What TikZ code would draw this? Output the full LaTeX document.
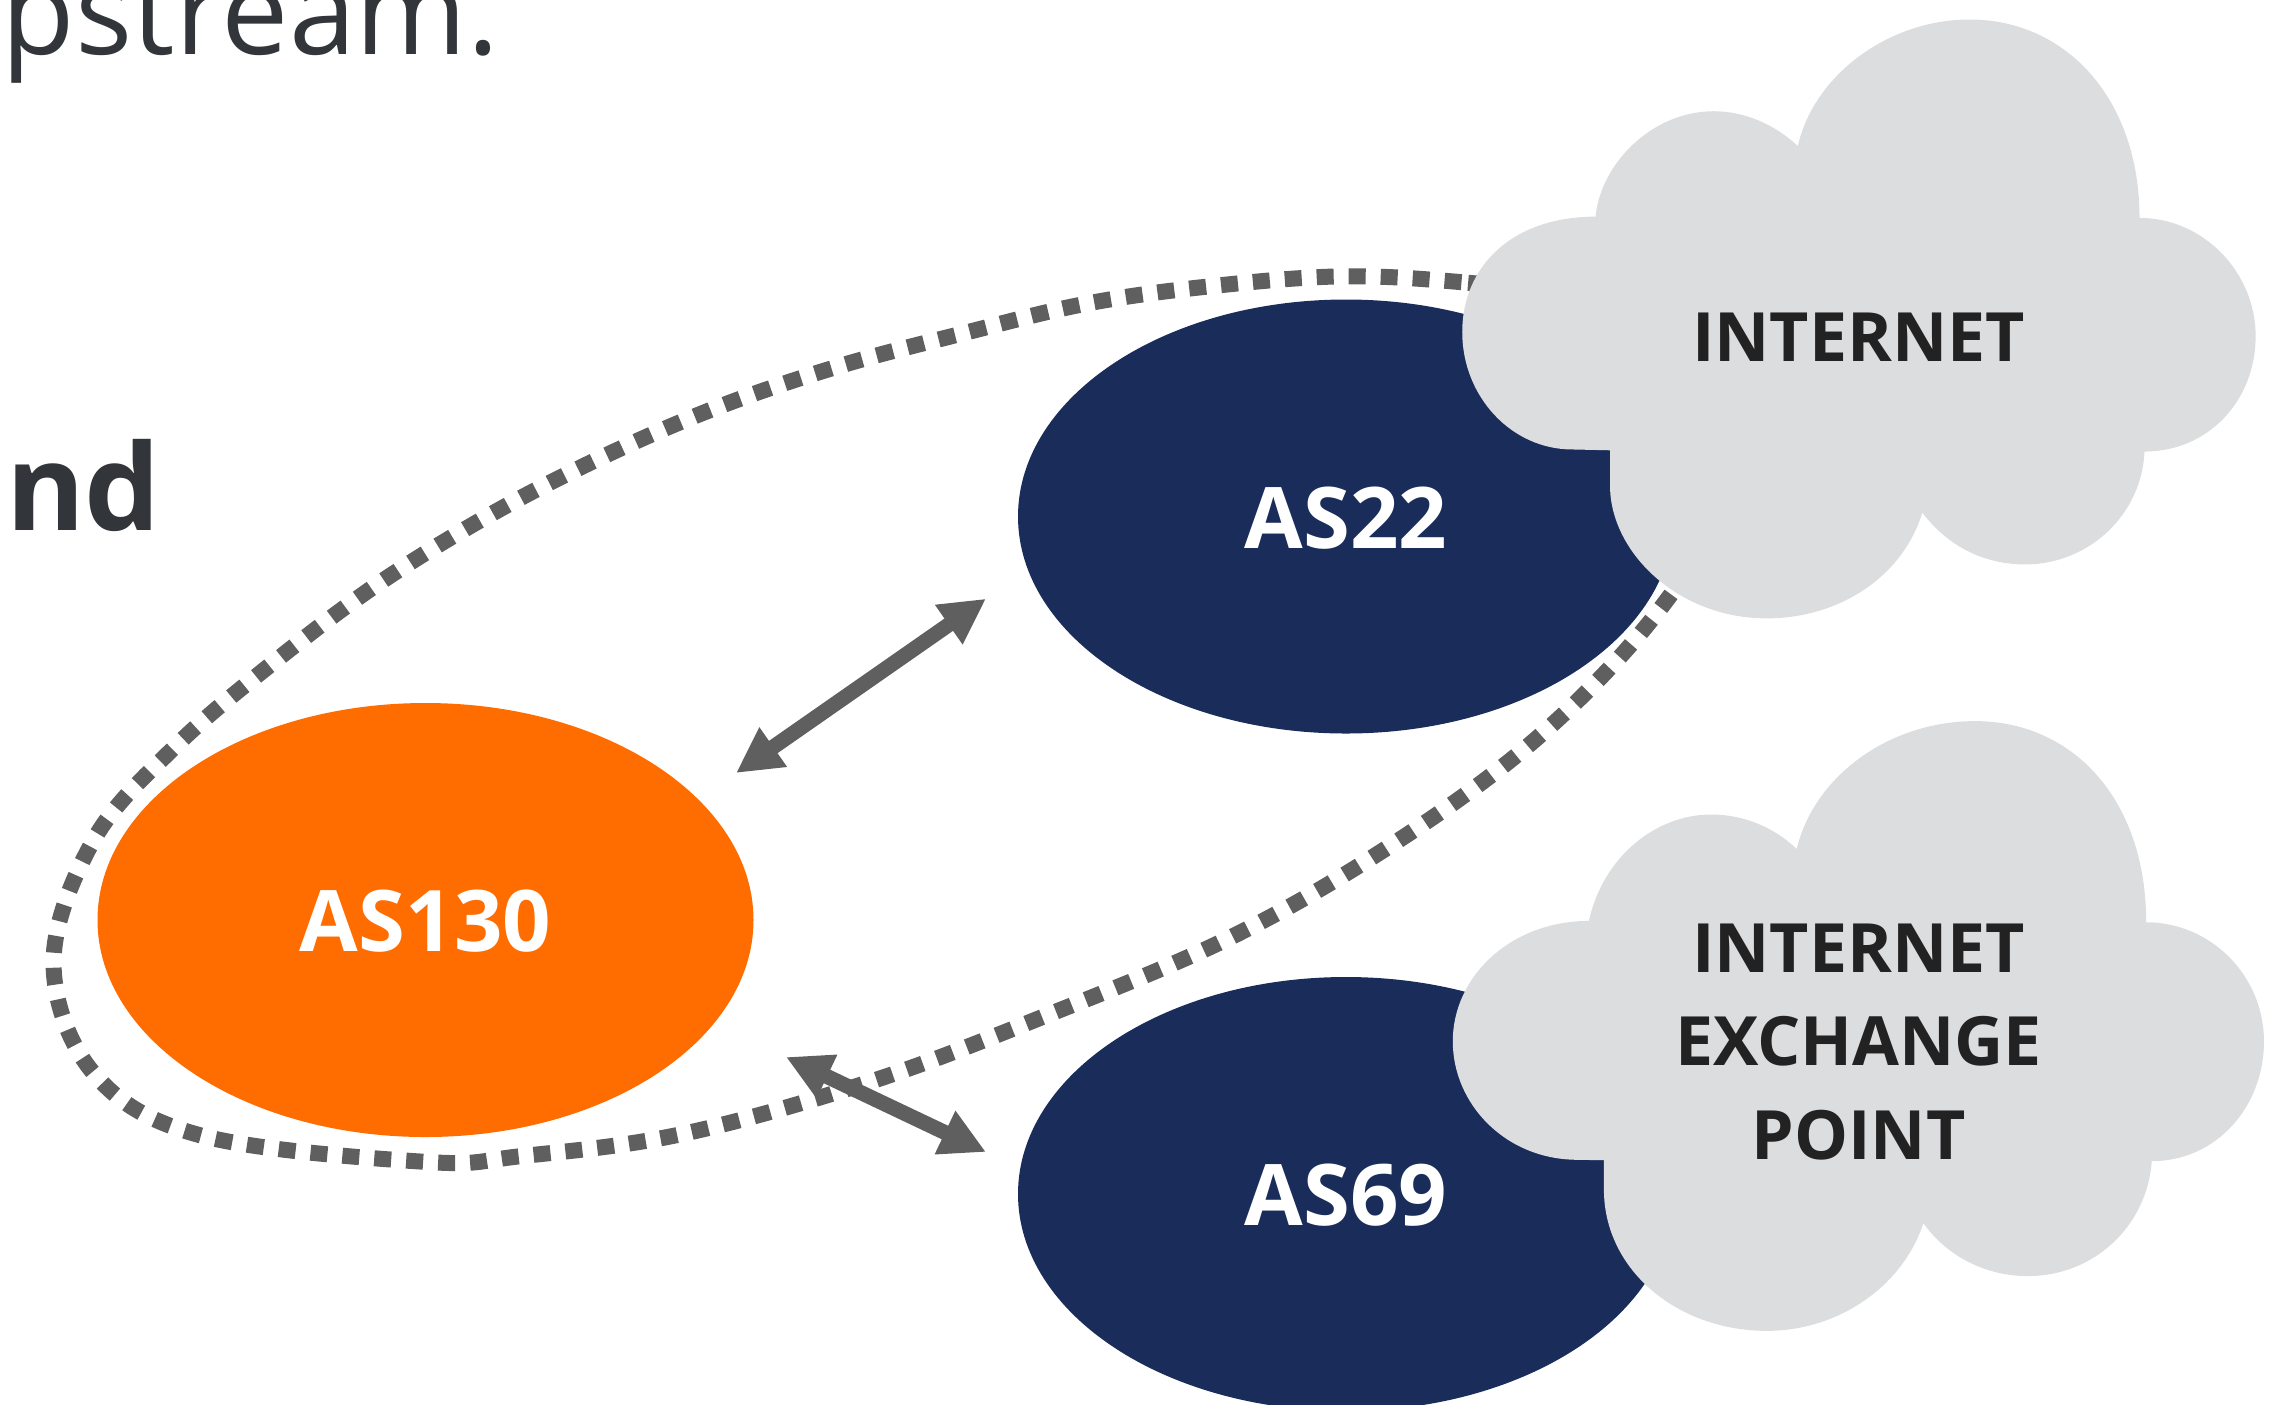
\documentclass[tikz,border=0pt]{standalone}
\usepackage{fontspec}
\setmainfont{Open Sans}
\usetikzlibrary{arrows.meta,shapes.geometric}
\definecolor{navy}{HTML}{1A2D5A}
\definecolor{orangeas}{HTML}{FF6C00}
\definecolor{cloudgrey}{HTML}{DCDDDF}
\definecolor{linegrey}{HTML}{5F5F5F}
\definecolor{inkdark}{HTML}{222222}
\definecolor{bodyink}{HTML}{32363A}
\tikzset{
  asnode/.style={ellipse,inner sep=0pt,outer sep=0pt,minimum width=328pt,minimum height=217pt,text=white,text height=31.5pt,text depth=0pt,font=\fontsize{42.5}{50}\selectfont\bfseries},
  cloudlabel/.style={text=inkdark,inner sep=0pt,outer sep=0pt,align=center,text depth=0pt,font=\fontsize{34}{46.75}\selectfont\bfseries},
  bodytext/.style={text=bodyink,inner sep=0pt,outer sep=0pt,anchor=base west},
  biarrow/.style={draw=linegrey,line width=7.5pt,{Triangle[length=22.7pt,width=22.5pt]}-{Triangle[length=22.7pt,width=22.5pt]}},
  cloudshape/.style={fill=cloudgrey,draw=none}
}
\begin{document}
\begin{tikzpicture}[x=0.5pt,y=-0.5pt]
\useasboundingbox (0,0) rectangle (2269,1404);
\node[bodytext,font=\fontsize{60}{62}\selectfont] (upstream) at (2,54) {pstream.};
\node[bodytext,font=\fontsize{60}{62}\selectfont\bfseries] (boldnd) at (6,530) {nd};
% dotted loop
\begin{scope}[x=0.7235pt,y=-0.7235pt]
\draw[linegrey,line width=8pt,dash pattern=on 8.5pt off 7.5pt] plot[smooth cycle,tension=0.6] coordinates {
 (1090,205)(1010,195)(927,191)(835,198)(750,210)(663,231)(580,253)(497,281)(418,315)(340,355)(262,403)(190,457)(122,515)(65,580)(37,665)(65,742)(140,785)(295,803)(360,799)(470,784)(600,748)(720,703)(850,648)(960,585)(1060,512)(1140,430)(1190,350)(1195,280)(1150,225)};
\end{scope}
\node[asnode,fill=orangeas] (as130) at (425.5,920) {AS130};
\node[asnode,fill=navy] (as22) at (1346,516.5) {AS22};
\node[asnode,fill=navy] (as69) at (1346,1194) {AS69};
% cloud 1
\begin{scope}[shift={(700pt,0pt)},x=0.2778pt,y=-0.2075pt]
\fill[cloudshape] (378,1085) -- (310,1083) .. controls (201,1083) and (112,956) .. (112,800)
 .. controls (112,644) and (200,522) .. (352,522)
 .. controls (360,400) and (450,268) .. (565,268)
 .. controls (620,268) and (675,300) .. (716,352)
 .. controls (745,180) and (880,47) .. (1025,47)
 .. controls (1200,47) and (1331,240) .. (1331,525)
 .. controls (1445,525) and (1540,655) .. (1540,810)
 .. controls (1540,965) and (1455,1088) .. (1340,1088)
 .. controls (1335,1240) and (1240,1360) .. (1125,1360)
 .. controls (1050,1360) and (985,1315) .. (940,1235)
 .. controls (905,1390) and (790,1490) .. (660,1490)
 .. controls (500,1490) and (378,1330) .. (378,1170) -- cycle;
\end{scope}
% cloud 2
\begin{scope}[shift={(700pt,-350pt)},x=0.2778pt,y=-0.22451pt]
\fill[cloudshape] (367,1025) -- (320,1024) .. controls (190,1024) and (95,900) .. (95,760)
 .. controls (95,615) and (200,492) .. (340,492)
 .. controls (365,350) and (460,255) .. (560,255)
 .. controls (620,255) and (675,285) .. (714,332)
 .. controls (745,170) and (880,47) .. (1035,47)
 .. controls (1210,47) and (1343,220) .. (1343,495)
 .. controls (1460,495) and (1555,615) .. (1555,760)
 .. controls (1555,905) and (1470,1027) .. (1353,1027)
 .. controls (1345,1170) and (1250,1283) .. (1130,1283)
 .. controls (1055,1283) and (985,1240) .. (942,1165)
 .. controls (905,1305) and (790,1405) .. (660,1405)
 .. controls (500,1405) and (367,1270) .. (367,1090) -- cycle;
\end{scope}
\node[cloudlabel,anchor=south] (internet) at (1858.5,361) {INTERNET};
\node[cloudlabel,anchor=south] (ixp) at (1858.5,1159) {INTERNET\\EXCHANGE\\POINT};
% arrows
\coordinate (a1s) at (736,773);
\coordinate (a1e) at (986,598.7);
\coordinate (a2s) at (786,1057);
\coordinate (a2e) at (986,1152);
\draw[biarrow] (a1s) -- (a1e);
\draw[biarrow] (a2s) -- (a2e);
\end{tikzpicture}
\end{document}
